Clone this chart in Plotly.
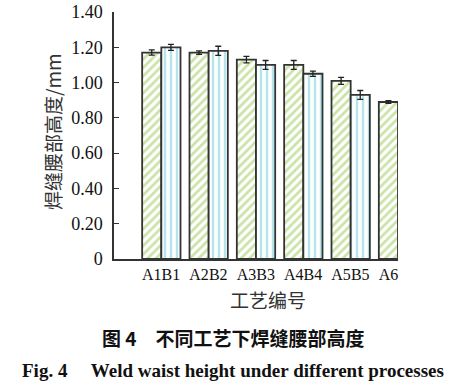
import plotly.graph_objects as go

groups = [0, 1, 2, 3, 4, 5]
a_names = ["A1", "A2", "A3", "A4", "A5", "A6"]
b_names = ["B1", "B2", "B3", "B4", "B5"]
a_vals = [1.17, 1.17, 1.13, 1.10, 1.01, 0.89]
a_err = [0.015, 0.010, 0.018, 0.025, 0.020, 0.008]
b_vals = [1.20, 1.18, 1.10, 1.05, 0.93]
b_err = [0.017, 0.026, 0.025, 0.015, 0.025]
y_ticks = [0, 0.2, 0.4, 0.6, 0.8, 1.0, 1.2, 1.4]
y_ticktext = ["0", "0.20", "0.40", "0.60", "0.80", "1.00", "1.20", "1.40"]

BARGAP = 0.19
half = (1 - BARGAP) / 4  # center offset of each bar in its group

serif = "Liberation Serif"
cjk = "Noto Sans CJK SC"
edge = "#333333"

fig = go.Figure()
fig.add_trace(go.Bar(
    x=groups, y=a_vals, name="A",
    marker=dict(color="white", line=dict(color=edge, width=1.8),
                pattern=dict(shape="/", fgcolor="#95c84f", bgcolor="white",
                             size=6, solidity=0.45)),
    error_y=dict(type="data", array=a_err, color="#222222", thickness=1.3, width=3),
))
fig.add_trace(go.Bar(
    x=groups[:len(b_vals)], y=b_vals, name="B",
    marker=dict(color="white", line=dict(color=edge, width=1.8),
                pattern=dict(shape="|", fgcolor="#6ccbd9", bgcolor="white",
                             size=6, solidity=0.4)),
    error_y=dict(type="data", array=b_err, color="#222222", thickness=1.3, width=3),
))

tickvals = []
ticktext = []
for i, g in enumerate(groups):
    tickvals.append(g - half)
    ticktext.append(a_names[i])
    if i < len(b_names):
        tickvals.append(g + half)
        ticktext.append(b_names[i])

W, H = 471, 390
ml, mt = 114, 12
mr = W - 398
mb = H - 259
pw, ph = W - ml - mr, H - mt - mb

fig.update_layout(
    width=W, height=H,
    margin=dict(l=ml, r=mr, t=mt, b=mb, autoexpand=False),
    paper_bgcolor="white", plot_bgcolor="white",
    barmode="group", bargap=BARGAP, bargroupgap=0,
    showlegend=False,
    xaxis=dict(range=[-1, 5], tickvals=tickvals, ticktext=ticktext, tickangle=0,
               automargin=False, ticklabeloverflow="allow",
               showline=True, linecolor=edge, linewidth=1.5, showgrid=False,
               zeroline=False, ticks="", ticklabelstandoff=0,
               tickfont=dict(family=serif, size=16, color="#111")),
    yaxis=dict(range=[0, 1.4], tickvals=y_ticks, ticktext=y_ticktext,
               automargin=False, ticklabeloverflow="allow",
               showline=True, linecolor=edge, linewidth=1.5, showgrid=False,
               zeroline=False, ticks="inside", ticklen=5, tickcolor=edge,
               tickwidth=1.3, ticklabelstandoff=6,
               tickfont=dict(family=serif, size=18, color="#111")),
)


def pix(px, py):
    return (px - ml) / pw, 1 - (py - mt) / ph


notes = [
    ("焊缝腰部高度/mm", 52, 132, cjk, 19, "#333", -90),
    ("工艺编号", 268, 299, cjk, 19, "#333", 0),
    ("<b>图 4</b>\u3000<b>不同工艺下焊缝腰部高度</b>", 233, 337, cjk, 19, "#111", 0),
    ("<b>Fig. 4\u2003 Weld waist height under different processes</b>", 233, 370, serif, 19, "#111", 0),
]
for text, px, py, fam, size, col, ang in notes:
    x, y = pix(px, py)
    fig.add_annotation(text=text, x=x, y=y, xref="paper", yref="paper",
                       xanchor="center", yanchor="middle", showarrow=False,
                       textangle=ang, font=dict(family=fam, size=size, color=col))

fig.write_html("out.html", config={"displayModeBar": False},
               post_script="document.body.style.margin='0';document.body.style.overflow='hidden';")
